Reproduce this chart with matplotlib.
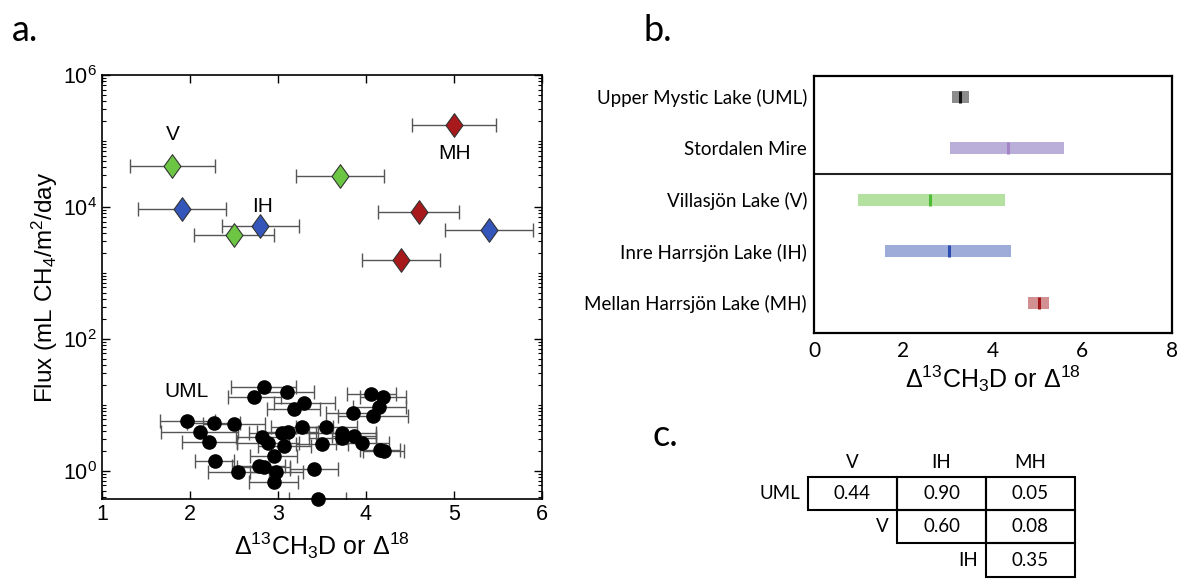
import numpy as np
import matplotlib
matplotlib.use("Agg")
import matplotlib.pyplot as plt
from matplotlib.patches import Rectangle
from matplotlib.path import Path
from matplotlib.ticker import FixedLocator, LogLocator, NullFormatter

plt.rcParams["font.family"] = ["Liberation Sans", "DejaVu Sans"]
plt.rcParams["mathtext.fontset"] = "custom"
plt.rcParams["mathtext.rm"] = "Liberation Sans"
plt.rcParams["mathtext.it"] = "Liberation Sans:italic"
plt.rcParams["mathtext.default"] = "regular"
LABEL_FONT = ["Lato", "DejaVu Sans"]  # stands in for Myriad

# ---- panel a: diamonds (V, IH, MH sites)
v_x = [1.80, 3.70, 2.50]
v_y = [4.1e4, 2.9e4, 3.7e3]
v_err = [0.48, 0.50, 0.45]
ih_x = [1.91, 2.80, 5.40]
ih_y = [9.3e3, 5.2e3, 4.4e3]
ih_err = [0.50, 0.44, 0.50]
mh_x = [5.00, 4.60, 4.40]
mh_y = [1.77e5, 8.3e3, 1.58e3]
mh_err = [0.48, 0.46, 0.44]

# ---- panel a: UML points
uml_x = [2.84, 3.10, 2.73, 3.30, 3.18, 4.06, 4.19, 4.15, 4.08, 3.85,
         1.97, 2.27, 2.50, 2.11, 2.22, 3.27, 3.55, 3.05, 3.11, 2.82,
         2.89, 3.07, 3.50, 3.73, 3.73, 3.86, 3.96, 4.16, 4.20, 2.95,
         2.28, 2.78, 2.84, 2.55, 2.98, 3.41, 2.95, 3.45]
uml_y = [18.4, 15.8, 12.9, 10.5, 8.6, 14.4, 12.9, 9.1, 6.75, 7.4,
         5.7, 5.35, 5.1, 3.8, 2.75, 4.65, 4.65, 3.7, 3.8, 3.3,
         2.66, 2.37, 2.51, 3.7, 3.1, 3.36, 2.6, 2.06, 2.01, 1.67,
         1.39, 1.19, 1.15, 0.97, 0.97, 1.05, 0.67, 0.372]
uml_err = [0.37, 0.31, 0.30, 0.35, 0.30, 0.28, 0.26, 0.30, 0.40, 0.30,
           0.31, 0.30, 0.35, 0.44, 0.31, 0.35, 0.35, 0.38, 0.35, 0.30,
           0.35, 0.30, 0.30, 0.38, 0.38, 0.25, 0.30, 0.23, 0.23, 0.27,
           0.22, 0.30, 0.30, 0.35, 0.30, 0.27, 0.28, 0.32]

# ---- panel b: ranges and medians
sites = ["Upper Mystic Lake (UML)", "Stordalen Mire", "Villasjön Lake (V)",
         "Inre Harrsjön Lake (IH)", "Mellan Harrsjön Lake (MH)"]
range_lo = [3.08, 3.05, 0.98, 1.60, 4.79]
range_hi = [3.48, 5.59, 4.27, 4.40, 5.27]
medians = [3.27, 4.35, 2.59, 3.03, 5.03]
bar_colors = ["#8c8c8c", "#b9afd8", "#b5e1a0", "#9eacd9", "#d39093"]
med_colors = ["#111111", "#a484c6", "#4dbb36", "#2b4db0", "#a3181c"]

# ---- panel c: p-value table
tab_cols = ["V", "IH", "MH"]
tab_rows = ["UML", "V", "IH"]
tab_vals = [["0.44", "0.90", "0.05"],
            [None, "0.60", "0.08"],
            [None, None, "0.35"]]

fig = plt.figure(figsize=(11.8, 5.81), dpi=100)

# diamond marker, a bit narrower than tall
diamond = Path([(0, 1), (0.72, 0), (0, -1), (-0.72, 0), (0, 1)],
               [Path.MOVETO, Path.LINETO, Path.LINETO, Path.LINETO, Path.CLOSEPOLY])

ax = fig.add_axes([0.0864, 0.1411, 0.3729, 0.7298])
eb_kw = dict(fmt="none", ecolor="#555555", elinewidth=1.0, capsize=5, capthick=1.0)
ax.errorbar(uml_x, uml_y, xerr=uml_err, zorder=2, **eb_kw)
ax.plot(uml_x, uml_y, "o", color="black", ms=9.5, zorder=3, clip_on=False)
for xs, ys, es, col in [(v_x, v_y, v_err, "#6cc644"),
                        (ih_x, ih_y, ih_err, "#3456bb"),
                        (mh_x, mh_y, mh_err, "#a8191b")]:
    ax.errorbar(xs, ys, xerr=es, zorder=2, **eb_kw)
    ax.plot(xs, ys, linestyle="none", marker=diamond, ms=17, mfc=col,
            mec="#333333", mew=0.8, zorder=3)

ax.text(1.80, 1.26e5, "V", fontsize=15, ha="center", va="center")
ax.text(2.83, 1.0e4, "IH", fontsize=15, ha="center", va="center")
ax.text(5.01, 6.5e4, "MH", fontsize=15, ha="center", va="center")
ax.text(1.96, 16, "UML", fontsize=15, ha="center", va="center")

ax.set_yscale("log")
ax.set_xlim(1, 6)
ax.set_ylim(0.372, 1e6)
ax.yaxis.set_major_locator(FixedLocator([1, 1e2, 1e4, 1e6]))
ax.yaxis.set_minor_locator(LogLocator(base=10, subs=np.arange(1, 10), numticks=50))
ax.yaxis.set_minor_formatter(NullFormatter())
ax.tick_params(which="both", direction="in", top=True, right=True, labelsize=15.5)
ax.tick_params(which="major", length=6, width=1.0)
ax.tick_params(which="minor", length=3, width=0.8)
ax.set_xlabel("Δ$^{13}$CH$_3$D or Δ$^{18}$", fontsize=18, labelpad=4)
ax.set_ylabel("Flux (mL CH$_4$/m$^2$/day", fontsize=17.5, labelpad=2)
for s in ax.spines.values():
    s.set_linewidth(1.2)

# ---- panel b
axb = fig.add_axes([0.6898, 0.4274, 0.3030, 0.4418])
ypos = np.arange(1, len(sites) + 1)
for i in range(len(sites)):
    axb.barh(ypos[i], range_hi[i] - range_lo[i], left=range_lo[i], height=0.23,
             color=bar_colors[i], edgecolor="none", zorder=2)
    axb.plot([medians[i], medians[i]], [ypos[i] - 0.115, ypos[i] + 0.115],
             color=med_colors[i], lw=2.2, solid_capstyle="butt", zorder=3)
axb.axhline(2.5, color="#222222", lw=1.5)
axb.set_xlim(0, 8)
axb.set_ylim(5.58, 0.6)
axb.set_xticks([0, 2, 4, 6, 8])
axb.set_yticks(ypos)
axb.set_yticklabels(sites, fontfamily=LABEL_FONT, fontsize=13.5)
for lab in axb.get_xticklabels():
    lab.set_fontfamily(LABEL_FONT)
axb.tick_params(axis="x", length=0, labelsize=15, pad=6)
axb.tick_params(axis="y", length=0, pad=5)
axb.set_xlabel("Δ$^{13}$CH$_3$D or Δ$^{18}$", fontsize=18, labelpad=2)
for s in axb.spines.values():
    s.set_linewidth(1.6)

# ---- panel c: table drawn on a pixel-coordinate overlay
axc = fig.add_axes([0, 0, 1, 1])
axc.set_xlim(0, 1180)
axc.set_ylim(581, 0)
axc.axis("off")
x0, y0, cw, rh = 808, 477, 89, 33.2
for j, c in enumerate(tab_cols):
    axc.text(x0 + (j + 0.5) * cw, y0 - 15, c, fontfamily=LABEL_FONT, fontsize=13.5,
             ha="center", va="center")
for i, r in enumerate(tab_rows):
    axc.text(x0 + i * cw - 8, y0 + (i + 0.5) * rh, r, fontfamily=LABEL_FONT,
             fontsize=13.5, ha="right", va="center")
    for j in range(len(tab_cols)):
        val = tab_vals[i][j]
        if val is None:
            continue
        axc.add_patch(Rectangle((x0 + j * cw, y0 + i * rh), cw, rh, fill=False,
                                lw=1.5, edgecolor="black"))
        axc.text(x0 + (j + 0.5) * cw, y0 + (i + 0.5) * rh, val,
                 fontfamily=LABEL_FONT, fontsize=13.5, ha="center", va="center")

# panel letters
fig.text(0.010, 0.930, "a.", fontfamily=LABEL_FONT, fontsize=26)
fig.text(0.545, 0.930, "b.", fontfamily=LABEL_FONT, fontsize=26)
fig.text(0.553, 0.232, "c.", fontfamily=LABEL_FONT, fontsize=26)

fig.savefig("out.png", dpi=100)
